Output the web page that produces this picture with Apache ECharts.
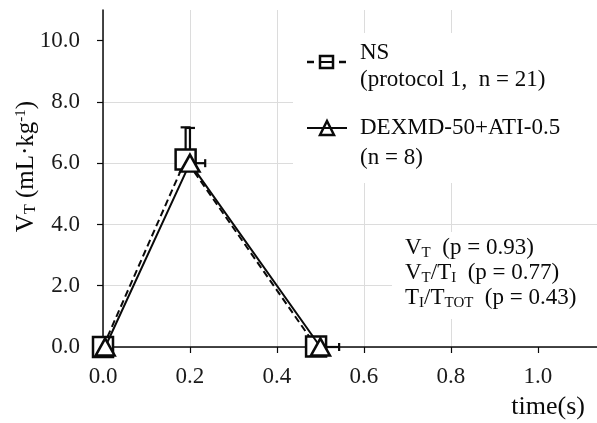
<!DOCTYPE html>
<html>
<head>
<meta charset="utf-8">
<script src="https://cdn.jsdelivr.net/npm/echarts@6/dist/echarts.min.js"></script>
<style>
  html, body { margin: 0; padding: 0; background: #fff; }
  #chart { width: 597px; height: 423px; }
</style>
</head>
<body>
<div id="chart"></div>
<script>
// 数据
var xTicks = [0, 0.2, 0.4, 0.6, 0.8, 1.0];
var yTicks = [0, 2, 4, 6, 8, 10];

var nsTime = [0, 0.19, 0.49];
var nsVt = [0, 6.12, 0.02];
var nsVtUpper = [null, 7.17, null];

var dexTime = [0.005, 0.2, 0.5];
var dexVt = [0, 6.0, 0];
var dexVtUpper = [null, 7.15, null];
var dexTimeUpper = [null, 0.235, 0.543];

var serif = 'Liberation Serif';
var ink = '#0a0a0a';

function pairs(xs, ys) {
    return xs.map(function (x, i) { return [x, ys[i]]; });
}

// 误差线数据: [x, y, xHi, yHi]
var errData = [];
nsTime.forEach(function (x, i) {
    if (nsVtUpper[i] !== null) errData.push([x, nsVt[i], null, nsVtUpper[i]]);
});
dexTime.forEach(function (x, i) {
    if (dexVtUpper[i] !== null || dexTimeUpper[i] !== null) {
        errData.push([x, dexVt[i], dexTimeUpper[i], dexVtUpper[i]]);
    }
});

function renderErr(params, api) {
    var x = api.value(0), y = api.value(1);
    var xHi = api.value(2), yHi = api.value(3);
    var p = api.coord([x, y]);
    var children = [];
    var st = { stroke: ink, lineWidth: 2.2 };
    if (yHi !== null && !isNaN(yHi) && yHi !== '-') {
        var q = api.coord([x, yHi]);
        children.push({ type: 'line', shape: { x1: p[0], y1: p[1], x2: q[0], y2: q[1] }, style: st });
        children.push({ type: 'line', shape: { x1: q[0] - 5, y1: q[1], x2: q[0] + 5, y2: q[1] }, style: st });
    }
    if (xHi !== null && !isNaN(xHi) && xHi !== '-') {
        var r = api.coord([xHi, y]);
        children.push({ type: 'line', shape: { x1: p[0], y1: p[1], x2: r[0], y2: r[1] }, style: st });
        children.push({ type: 'line', shape: { x1: r[0], y1: r[1] - 4, x2: r[0], y2: r[1] + 4 }, style: st });
    }
    return { type: 'group', children: children };
}

var subRich = {
    s: { fontFamily: serif, fontSize: 15, fill: ink, color: ink, verticalAlign: 'bottom', lineHeight: 15 }
};

var myChart = echarts.init(document.getElementById('chart'));
var option = {
    animation: false,
    backgroundColor: '#fff',
    grid: { left: 103, top: 10, right: 0, bottom: 76, outerBoundsMode: 'none', containLabel: false },
    xAxis: {
        type: 'value',
        min: 0,
        max: 1.136,
        interval: 0.2,
        axisLine: { lineStyle: { color: ink, width: 1.5 } },
        axisTick: { show: true, length: 6, customValues: xTicks, lineStyle: { color: ink, width: 1.2 } },
        axisLabel: {
            customValues: xTicks,
            margin: 18,
            fontFamily: serif, fontSize: 23, color: '#1a1a1a',
            formatter: function (v) { return v.toFixed(1); }
        },
        splitLine: { show: true, showMaxLine: false, lineStyle: { color: '#dcdcdc', width: 1 } }
    },
    yAxis: {
        type: 'value',
        min: 0,
        max: 11,
        interval: 2,
        name: 'V{s|T} (mL·kg{p|-1})',
        nameLocation: 'middle',
        nameRotate: 90,
        nameGap: 64,
        nameMoveOverlap: false,
        nameTextStyle: {
            fontFamily: serif, fontSize: 25, color: ink,
            padding: [0, 0, 0, 24],
            rich: {
                s: { fontFamily: serif, fontSize: 16, color: ink, verticalAlign: 'bottom', lineHeight: 16 },
                p: { fontFamily: serif, fontSize: 15, color: ink, verticalAlign: 'top', lineHeight: 15 }
            }
        },
        axisLine: { show: true, lineStyle: { color: ink, width: 1.5 } },
        axisTick: { show: true, length: 6, customValues: yTicks, lineStyle: { color: ink, width: 1.2 } },
        axisLabel: {
            customValues: yTicks,
            margin: 23,
            fontFamily: serif, fontSize: 23, color: '#1a1a1a',
            formatter: function (v) { return v.toFixed(1); }
        },
        splitLine: { show: true, showMaxLine: false, lineStyle: { color: '#dcdcdc', width: 1 } }
    },
    graphic: [
        // 图例背景
        { type: 'rect', z: 100, shape: { x: 347, y: 33, width: 250, height: 13 }, style: { fill: '#fff' } },
        { type: 'rect', z: 100, shape: { x: 293, y: 45, width: 304, height: 138 }, style: { fill: '#fff' } },
        // p值背景
        { type: 'rect', z: 100, shape: { x: 392, y: 232, width: 205, height: 87 }, style: { fill: '#fff' } },
        // NS 图例
        { type: 'rect', z: 101, shape: { x: 320, y: 56, width: 13, height: 12 }, style: { fill: '#fff', stroke: ink, lineWidth: 2.5 } },
        { type: 'line', z: 102, shape: { x1: 307, y1: 62, x2: 314, y2: 62 }, style: { stroke: ink, lineWidth: 2.5 } },
        { type: 'line', z: 102, shape: { x1: 320, y1: 62, x2: 333, y2: 62 }, style: { stroke: ink, lineWidth: 2 } },
        { type: 'line', z: 102, shape: { x1: 339, y1: 62, x2: 346, y2: 62 }, style: { stroke: ink, lineWidth: 2.5 } },
        { type: 'text', z: 102, style: { x: 360, y: 53, text: 'NS', font: '23px "Liberation Serif"', fill: ink, verticalAlign: 'middle' } },
        { type: 'text', z: 102, style: { x: 360, y: 80, text: '(protocol 1,  n = 21)', font: '23px "Liberation Serif"', fill: ink, verticalAlign: 'middle' } },
        // DEXMD 图例
        { type: 'polygon', z: 101, shape: { points: [[327, 121], [334, 135], [320, 135]] }, style: { fill: '#fff', stroke: ink, lineWidth: 2.5 } },
        { type: 'line', z: 102, shape: { x1: 307, y1: 128, x2: 347, y2: 128 }, style: { stroke: ink, lineWidth: 2.2 } },
        { type: 'text', z: 102, style: { x: 360, y: 128, text: 'DEXMD-50+ATI-0.5', font: '23px "Liberation Serif"', fill: ink, verticalAlign: 'middle' } },
        { type: 'text', z: 102, style: { x: 360, y: 158, text: '(n = 8)', font: '23px "Liberation Serif"', fill: ink, verticalAlign: 'middle' } },
        // p值
        { type: 'text', z: 102, style: { x: 405, y: 248, text: 'V{s|T}  (p = 0.93)', fontFamily: serif, fontSize: 23, lineHeight: 26, fill: ink, verticalAlign: 'middle', rich: subRich } },
        { type: 'text', z: 102, style: { x: 405, y: 273, text: 'V{s|T}/T{s|I}  (p = 0.77)', fontFamily: serif, fontSize: 23, lineHeight: 26, fill: ink, verticalAlign: 'middle', rich: subRich } },
        { type: 'text', z: 102, style: { x: 405, y: 298, text: 'T{s|I}/T{s|TOT}  (p = 0.43)', fontFamily: serif, fontSize: 23, lineHeight: 26, fill: ink, verticalAlign: 'middle', rich: subRich } },
        // x轴名称
        { type: 'text', z: 102, style: { x: 585, y: 407, text: 'time(s)', font: '26px "Liberation Serif"', fill: ink, align: 'right', verticalAlign: 'middle' } }
    ],
    series: [
        {
            type: 'custom',
            renderItem: renderErr,
            data: errData,
            encode: { x: 0, y: 1 },
            z: 3,
            clip: false
        },
        {
            name: 'NS',
            type: 'line',
            data: pairs(nsTime, nsVt),
            symbol: 'rect',
            symbolSize: [20, 20],
            lineStyle: { color: ink, width: 2, type: [7, 4] },
            itemStyle: { color: '#fff', borderColor: ink, borderWidth: 2.5 },
            z: 4,
            clip: false
        },
        {
            name: 'DEXMD-50+ATI-0.5',
            type: 'line',
            data: pairs(dexTime, dexVt),
            symbol: 'triangle',
            symbolSize: [19, 17],
            lineStyle: { color: ink, width: 2 },
            itemStyle: { color: '#fff', borderColor: ink, borderWidth: 2.5 },
            z: 5,
            clip: false
        }
    ]
};
myChart.setOption(option, true);
</script>
</body>
</html>
